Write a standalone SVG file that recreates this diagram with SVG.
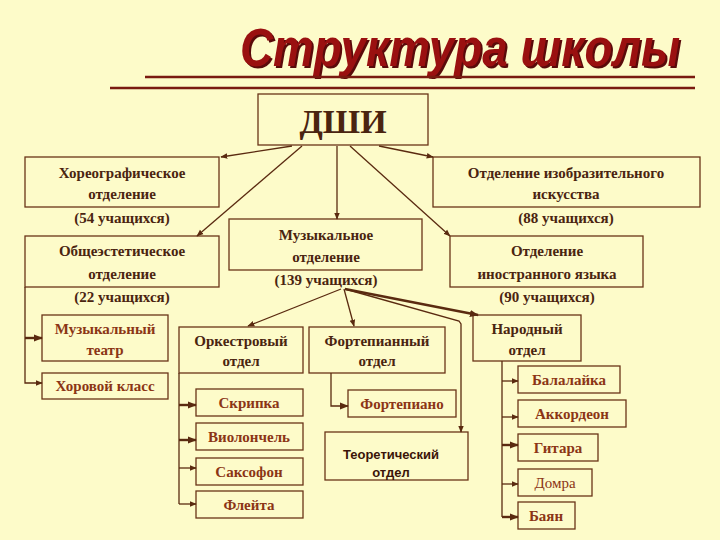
<svg xmlns="http://www.w3.org/2000/svg" width="720" height="540" viewBox="0 0 720 540">
<defs>
<marker id="a" viewBox="0 0 10 10" refX="9" refY="5" markerWidth="7" markerHeight="7" orient="auto-start-reverse" markerUnits="userSpaceOnUse"><path d="M0,1 L10,5 L0,9 z" fill="#5a2a10"/></marker>
<marker id="b" viewBox="0 0 10 10" refX="9" refY="5" markerWidth="9" markerHeight="9" orient="auto" markerUnits="userSpaceOnUse"><path d="M0,1 L10,5 L0,9 z" fill="#5a2a10"/></marker>
</defs>
<style>
rect{fill:none;stroke:#6a3418;stroke-width:1.3}
text{font-family:"Liberation Serif",serif;font-weight:bold;font-size:15px;fill:#4a2410;text-anchor:middle}
.i{fill:#8b3515}
.s{font-family:"Liberation Sans",sans-serif;font-size:13px;fill:#3a1408}
.c{stroke:#5a2a10;stroke-width:1.3;fill:none}
.t{stroke:#5a2a10;stroke-width:2.4;fill:none}
</style>
<rect x="0" y="0" width="720" height="540" style="fill:#fdfbc9;stroke:none"/>
<g id="title">
<text x="460" y="66" textLength="440" lengthAdjust="spacingAndGlyphs" style="font-family:'Liberation Sans',sans-serif;font-style:italic;font-size:54px;fill:#5a0a0a" transform="translate(2,2)">Структура школы</text>
<text x="460" y="66" textLength="440" lengthAdjust="spacingAndGlyphs" style="font-family:'Liberation Sans',sans-serif;font-style:italic;font-size:54px;fill:#9a1010">Структура школы</text>
<line x1="145" y1="77" x2="695" y2="77" class="t" style="stroke:#7a1a10"/>
<line x1="110" y1="88" x2="695" y2="88" class="t" style="stroke:#7a1a10"/>
</g>
<g id="dshi"><rect x="258" y="94" width="170" height="51"/><text x="343" y="133" style="font-size:34px">ДШИ</text></g>
<g id="horeo"><rect x="25" y="157" width="194" height="50"/><text x="122" y="178">Хореографическое</text><text x="122" y="199">отделение</text><text x="122" y="223">(54 учащихся)</text></g>
<g id="izo"><rect x="433" y="157" width="267" height="50"/><text x="566" y="178">Отделение изобразительного</text><text x="566" y="199">искусства</text><text x="566" y="223">(88 учащихся)</text></g>
<g id="obsh"><rect x="25" y="236" width="194" height="51"/><text x="122" y="256">Общеэстетическое</text><text x="122" y="279">отделение</text><text x="122" y="302">(22 учащихся)</text></g>
<g id="muz"><rect x="229" y="219" width="193" height="51"/><text x="326" y="240">Музыкальное</text><text x="326" y="262">отделение</text><text x="326" y="285">(139 учащихся)</text></g>
<g id="inostr"><rect x="450" y="236" width="193" height="51"/><text x="547" y="256">Отделение</text><text x="547" y="279">иностранного языка</text><text x="547" y="302">(90 учащихся)</text></g>
<g id="teatr"><rect x="42" y="315" width="126" height="46"/><text class="i" x="105" y="334">Музыкальный</text><text class="i" x="105" y="355">театр</text></g>
<g id="hor"><rect x="42" y="373" width="126" height="26"/><text class="i" x="105" y="391">Хоровой класс</text></g>
<g id="orkestr"><rect x="179" y="327" width="124" height="46"/><text x="241" y="346">Оркестровый</text><text x="241" y="366">отдел</text></g>
<g id="fortep"><rect x="309" y="327" width="136" height="46"/><text x="377" y="346">Фортепианный</text><text x="377" y="366">отдел</text></g>
<g id="narod"><rect x="473" y="315" width="108" height="46"/><text x="527" y="334">Народный</text><text x="527" y="355">отдел</text></g>
<g id="skripka"><rect x="196" y="389" width="107" height="27"/><text class="i" x="249" y="408">Скрипка</text></g>
<g id="viol"><rect x="196" y="423" width="107" height="27"/><text class="i" x="249" y="442">Виолончель</text></g>
<g id="sax"><rect x="196" y="458" width="107" height="27"/><text class="i" x="249" y="477">Саксофон</text></g>
<g id="flute"><rect x="196" y="491" width="107" height="27"/><text class="i" x="249" y="510">Флейта</text></g>
<g id="piano"><rect x="348" y="390" width="108" height="27"/><text class="i" x="402" y="409">Фортепиано</text></g>
<g id="teor"><rect x="325" y="432" width="143" height="48"/><text class="s" x="391" y="459">Теоретический</text><text class="s" x="391" y="477">отдел</text></g>
<g id="bal"><rect x="518" y="366" width="102" height="27"/><text class="i" x="569" y="385">Балалайка</text></g>
<g id="akk"><rect x="518" y="400" width="108" height="27"/><text class="i" x="572" y="419">Аккордеон</text></g>
<g id="git"><rect x="518" y="434" width="80" height="27"/><text class="i" x="558" y="453">Гитара</text></g>
<g id="domra"><rect x="518" y="469" width="74" height="27"/><text class="i" x="555" y="488" style="font-weight:normal">Домра</text></g>
<g id="bayan"><rect x="518" y="502" width="57" height="27"/><text class="i" x="546" y="521">Баян</text></g>
<g id="connectors">
<line class="c" x1="292" y1="146" x2="221" y2="157" marker-end="url(#a)"/>
<line class="c" x1="302" y1="146" x2="197" y2="236" marker-end="url(#a)"/>
<line class="c" x1="337" y1="146" x2="337" y2="219" marker-end="url(#a)"/>
<line class="c" x1="350" y1="146" x2="450" y2="236" marker-end="url(#a)"/>
<line class="c" x1="379" y1="146" x2="433" y2="157" marker-end="url(#a)"/>
<line class="c" x1="341" y1="289" x2="248" y2="326" marker-end="url(#a)"/>
<line class="c" x1="344" y1="289" x2="354" y2="326" marker-end="url(#a)"/>
<line class="t" x1="345" y1="289" x2="478" y2="315" marker-end="url(#b)"/>
<polyline class="c" points="345,289 459,321 461,324 461,432" marker-end="url(#a)"/>
<polyline class="c" points="25,287 25,383 42,383" marker-end="url(#a)"/>
<line class="t" x1="25" y1="338" x2="42" y2="338" marker-end="url(#b)"/>
<line class="c" x1="179" y1="373" x2="179" y2="504"/>
<line class="t" x1="179" y1="405" x2="196" y2="405" marker-end="url(#b)"/>
<line class="t" x1="179" y1="440" x2="196" y2="440" marker-end="url(#b)"/>
<line class="c" x1="179" y1="468" x2="196" y2="468" marker-end="url(#a)"/>
<line class="c" x1="179" y1="504" x2="196" y2="504" marker-end="url(#a)"/>
<polyline class="c" points="331,373 331,406 348,406" marker-end="url(#b)"/>
<line class="c" x1="502" y1="361" x2="502" y2="517"/>
<line class="c" x1="502" y1="381" x2="518" y2="381" marker-end="url(#a)"/>
<line class="c" x1="502" y1="417" x2="518" y2="417" marker-end="url(#a)"/>
<line class="t" x1="502" y1="445" x2="518" y2="445" marker-end="url(#b)"/>
<line class="c" x1="502" y1="484" x2="518" y2="484" marker-end="url(#a)"/>
<line class="t" x1="502" y1="517" x2="518" y2="517" marker-end="url(#b)"/>
</g>
</svg>
